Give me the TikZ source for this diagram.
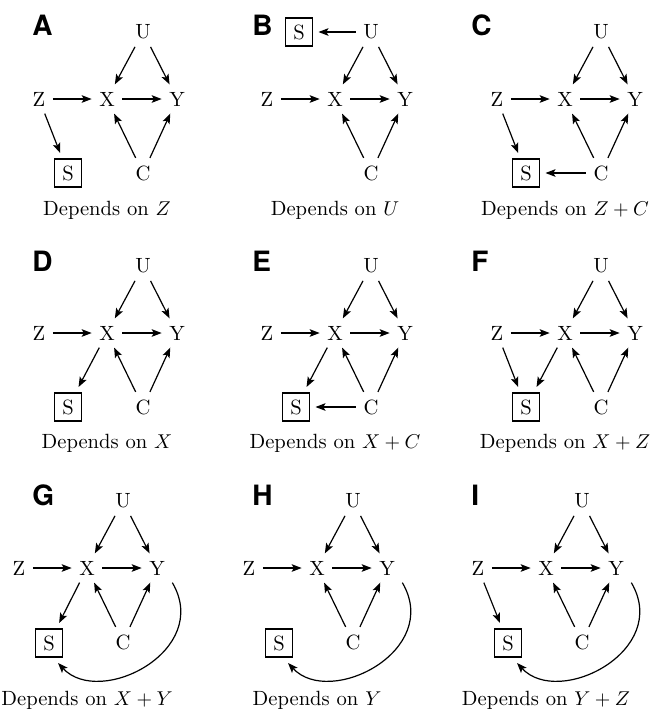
\documentclass[tikz,border=0pt]{standalone}
\usepackage{fontspec}
\newfontfamily\helv{TeX Gyre Heros}
\usetikzlibrary{arrows.meta}
\tikzset{
  v/.style={inner sep=3.8pt, outer sep=0pt, font=\fontsize{10.3}{12}\selectfont},
  sel/.style={draw, line width=0.6pt, minimum width=13.5pt, minimum height=14pt,
              inner sep=0pt, outer sep=3pt, font=\fontsize{10.3}{12}\selectfont},
  arr/.style={-{Stealth[length=5pt,width=3.8pt,inset=1.1pt]}, line width=0.6pt},
  panellbl/.style={font=\helv\bfseries\fontsize{14}{14}\selectfont, anchor=base west, inner sep=0pt},
  captext/.style={anchor=base, inner sep=0pt, font=\fontsize{10.3}{12}\selectfont}
}
% #1 prefix, #2 #3 position of X, #4 letter, #5 #6 letter base west, #7 #8 offset of S
\newcommand{\dagpanel}[8]{%
  \begin{scope}[shift={(#2,#3)}]
    \node[v] (#1X) at (0,0) {X};
    \node[v] (#1Z) at (-68,0) {Z};
    \node[v] (#1Y) at (70,0) {Y};
    \node[v] (#1U) at (36,-67) {U};
    \node[v] (#1C) at (36,74) {C};
    \node[sel] (#1S) at (#7,#8) {S};
  \end{scope}
  \draw[arr] (#1Z) -- (#1X);
  \draw[arr] (#1X) -- (#1Y);
  \draw[arr] (#1U) -- (#1X);
  \draw[arr] (#1U) -- (#1Y);
  \draw[arr] (#1C) -- (#1X);
  \draw[arr] (#1C) -- (#1Y);
  \node[panellbl] (#1L) at (#5,#6) {#4};
}
\newcommand{\ycurve}[1]{%
  \draw[arr] (#1Y.south east) .. controls +(40,68) and +(42,45) .. ([xshift=4.5pt]#1S.south);
}
\begin{document}
\begin{tikzpicture}[x=0.5pt,y=-0.5pt]
\useasboundingbox (0,0) rectangle (663,709);
% Row 1
\dagpanel{A}{107}{99}{A}{32}{35}{-39}{74}
\draw[arr] (AZ) -- (AS);
\node[captext] (Acap) at (107,215) {Depends on $Z$};

\dagpanel{B}{335}{99}{B}{252}{35}{-36}{-67}
\draw[arr] (BU) -- (BS);
\node[captext] (Bcap) at (335,215) {Depends on $U$};

\dagpanel{C}{565}{99}{C}{471}{35}{-39}{74}
\draw[arr] (CZ) -- (CS);
\draw[arr] (CC) -- (CS);
\node[captext] (Ccap) at (565,215) {Depends on $Z + C$};

% Row 2
\dagpanel{D}{107}{333}{D}{32}{271}{-39}{74}
\draw[arr] (DX) -- (DS);
\node[captext] (Dcap) at (107,448) {Depends on $X$};

\dagpanel{E}{335}{333}{E}{252}{271}{-39}{74}
\draw[arr] (EX) -- (ES);
\draw[arr] (EC) -- (ES);
\node[captext] (Ecap) at (335,448) {Depends on $X + C$};

\dagpanel{F}{565}{333}{F}{471}{271}{-39}{74}
\draw[arr] (FZ) -- (FS);
\draw[arr] (FX) -- (FS);
\node[captext] (Fcap) at (565,448) {Depends on $X + Z$};

% Row 3
\dagpanel{G}{87}{568}{G}{32}{505}{-38}{75}
\draw[arr] (GX) -- (GS);
\ycurve{G}
\node[captext] (Gcap) at (87,705) {Depends on $X + Y$};

\dagpanel{H}{317}{568}{H}{252}{505}{-38}{75}
\ycurve{H}
\node[captext] (Hcap) at (317,705) {Depends on $Y$};

\dagpanel{I}{546}{568}{I}{471}{505}{-38}{75}
\draw[arr] (IZ) -- (IS);
\ycurve{I}
\node[captext] (Icap) at (546,705) {Depends on $Y + Z$};
\end{tikzpicture}
\end{document}
